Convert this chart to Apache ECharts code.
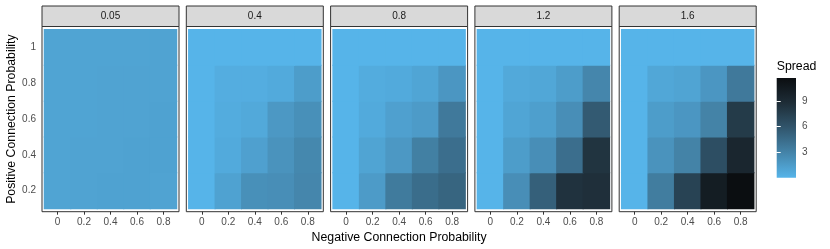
<!DOCTYPE html>
<html>
<head>
<meta charset="utf-8">
<script src="https://cdn.jsdelivr.net/npm/echarts@6/dist/echarts.min.js"></script>
<style>html,body{margin:0;padding:0;background:#fff}#c{width:830px;height:249px}</style>
</head>
<body>
<div id="c"></div>
<script>
// ---- data ----
const facets = ['0.05', '0.4', '0.8', '1.2', '1.6'];
const negProb = [0, 0.2, 0.4, 0.6, 0.8];        // x categories (columns)
const posProb = [0.2, 0.4, 0.6, 0.8, 1.0];      // y categories (rows, bottom to top)
const xTicks = [0, 0.2, 0.4, 0.6, 0.8];
const yTicks = [0.2, 0.4, 0.6, 0.8, 1];
const legendTicks = [3, 6, 9];
const spreadMin = 0, spreadMax = 11.7;
// rows follow posProb order, columns follow negProb order
const spread_005 = [
  [1.0, 1.05, 1.1, 1.1, 1.05],
  [1.0, 1.05, 1.05, 1.1, 1.1],
  [1.0, 1.0, 1.05, 1.05, 1.1],
  [1.0, 1.0, 1.05, 1.05, 1.05],
  [1.0, 1.0, 1.0, 1.0, 1.05]
];
const spread_04 = [
  [0, 1.1, 2.2, 2.3, 2.8],
  [0, 0.6, 1.2, 2.0, 2.7],
  [0, 0.5, 0.7, 1.7, 2.2],
  [0, 0.4, 0.4, 0.6, 1.4],
  [0, 0, 0, 0, 0]
];
const spread_08 = [
  [0, 1.5, 3.5, 4.4, 4.9],
  [0, 1.0, 1.7, 3.2, 4.3],
  [0, 0.6, 1.2, 1.5, 3.6],
  [0, 0.5, 0.6, 0.9, 1.8],
  [0, 0, 0, 0, 0]
];
const spread_12 = [
  [0, 2.3, 5.2, 8.4, 8.6],
  [0, 1.4, 2.3, 4.3, 8.3],
  [0, 0.9, 1.3, 2.3, 5.6],
  [0, 0.7, 0.8, 1.4, 2.8],
  [0, 0, 0, 0, 0]
];
const spread_16 = [
  [0, 3.4, 7.2, 10.3, 11.7],
  [0, 2.0, 3.0, 6.4, 9.4],
  [0, 1.4, 1.8, 3.0, 7.8],
  [0, 0.8, 1.0, 1.8, 3.6],
  [0, 0, 0, 0, 0]
];
const panels = [spread_005, spread_04, spread_08, spread_12, spread_16];

// ---- style / layout ----
const colorStops = ['#56B4E9', '#4484A9', '#31566D', '#1E2D37', '#0B0E11'];
const FONT = 'Liberation Sans';
const TICK_FS = 10, TITLE_FS = 12.3;
const panelLefts = [42, 186.3, 330.6, 474.9, 619.2];
const panelW = 137, panelTop = 26.5, panelH = 185.2;
const stripTop = 6;
const halfW = (negProb[1] - negProb[0]) / 2;
const halfH = (posProb[1] - posProb[0]) / 2;

const chart = echarts.init(document.getElementById('c'), null, {renderer: 'canvas'});

const grids = [], xAxes = [], yAxes = [], series = [], graphics = [];
panels.forEach((mat, i) => {
  grids.push({left: panelLefts[i], top: panelTop, width: panelW, height: panelH,
    show: true, borderColor: '#333333', borderWidth: 1, backgroundColor: '#fff'});
  xAxes.push({type: 'value', gridIndex: i, min: -0.117, max: 0.917,
    axisLine: {show: false}, splitLine: {show: false},
    axisTick: {show: true, length: 3, lineStyle: {color: '#333333'}, customValues: xTicks},
    axisLabel: {show: true, margin: 6, color: '#4D4D4D', fontFamily: FONT, fontSize: TICK_FS,
      customValues: xTicks, formatter: v => String(v)}});
  yAxes.push({type: 'value', gridIndex: i, min: 0.083, max: 1.117,
    axisLine: {show: false}, splitLine: {show: false},
    axisTick: {show: i === 0, length: 3, lineStyle: {color: '#333333'}, customValues: yTicks},
    axisLabel: {show: i === 0, margin: 6, color: '#4D4D4D', fontFamily: FONT, fontSize: TICK_FS,
      customValues: yTicks, formatter: v => String(v)}});
  const data = [];
  mat.forEach((row, r) => row.forEach((v, c) => data.push([negProb[c], posProb[r], v])));
  series.push({type: 'custom', xAxisIndex: i, yAxisIndex: i, data: data,
    encode: {x: 0, y: 1},
    renderItem: function (params, api) {
      const x = api.value(0), y = api.value(1);
      const p1 = api.coord([x - halfW, y + halfH]);
      const p2 = api.coord([x + halfW, y - halfH]);
      const col = api.visual('color');
      // slight overlap hides anti-aliasing seams between neighbouring tiles
      const ov = 0.5;
      return {type: 'rect',
        shape: {x: p1[0] - ov, y: p1[1] - ov, width: p2[0] - p1[0] + 2 * ov, height: p2[1] - p1[1] + 2 * ov},
        style: {fill: col}};
    }});
  graphics.push({type: 'rect', shape: {x: panelLefts[i], y: stripTop, width: panelW, height: panelTop - stripTop},
    style: {fill: '#D9D9D9', stroke: '#333333', lineWidth: 1}, z: 10});
  graphics.push({type: 'text', x: panelLefts[i] + panelW / 2, y: (stripTop + panelTop) / 2 + 0.3,
    style: {text: facets[i], fill: '#1A1A1A', font: TICK_FS + 'px ' + FONT, textAlign: 'center', textVerticalAlign: 'middle'}, z: 11});
});

// colour bar legend as its own grid
const lg = {left: 776.7, top: 78, width: 19.3, height: 99.7};
grids.push({left: lg.left, top: lg.top, width: lg.width, height: lg.height, show: false});
xAxes.push({type: 'value', gridIndex: 5, min: 0, max: 1, show: false});
yAxes.push({type: 'value', gridIndex: 5, min: spreadMin, max: spreadMax, position: 'right', z: 10,
  axisLine: {show: false}, splitLine: {show: false},
  axisTick: {show: true, inside: true, length: 4, lineStyle: {color: '#ffffff', width: 1}, customValues: legendTicks},
  axisLabel: {show: true, margin: 6, color: '#4D4D4D', fontFamily: FONT, fontSize: TICK_FS, customValues: legendTicks}});
yAxes.push({type: 'value', gridIndex: 5, min: spreadMin, max: spreadMax, position: 'left', z: 10,
  axisLine: {show: false}, splitLine: {show: false},
  axisTick: {show: true, inside: true, length: 4, lineStyle: {color: '#ffffff', width: 1}, customValues: legendTicks},
  axisLabel: {show: false}});
series.push({type: 'custom', xAxisIndex: 5, yAxisIndex: 5, data: [[0, spreadMin, spreadMax]], z: 1,
  renderItem: function (params, api) {
    const p1 = api.coord([0, api.value(2)]);
    const p2 = api.coord([1, api.value(1)]);
    return {type: 'rect', shape: {x: p1[0], y: p1[1], width: p2[0] - p1[0], height: p2[1] - p1[1]},
      style: {fill: {type: 'linear', x: 0, y: 1, x2: 0, y2: 0,
        colorStops: colorStops.map((c, k) => ({offset: k / (colorStops.length - 1), color: c}))}}};
  }});

graphics.push({type: 'text', x: (panelLefts[0] + panelLefts[4] + panelW) / 2, y: 237.5,
  style: {text: 'Negative Connection Probability', fill: '#000', font: TITLE_FS + 'px ' + FONT, textAlign: 'center', textVerticalAlign: 'middle'}});
graphics.push({type: 'text', x: 12, y: panelTop + panelH / 2, rotation: Math.PI / 2,
  style: {text: 'Positive Connection Probability', fill: '#000', font: TITLE_FS + 'px ' + FONT, textAlign: 'center', textVerticalAlign: 'middle'}});
graphics.push({type: 'text', x: lg.left, y: 66.5,
  style: {text: 'Spread', fill: '#000', font: TITLE_FS + 'px ' + FONT, textAlign: 'left', textVerticalAlign: 'middle'}});

chart.setOption({
  animation: false,
  backgroundColor: '#fff',
  grid: grids, xAxis: xAxes, yAxis: yAxes, series: series,
  visualMap: {type: 'continuous', show: false, min: spreadMin, max: spreadMax, dimension: 2,
    seriesIndex: [0, 1, 2, 3, 4], inRange: {color: colorStops}},
  graphic: graphics
});
</script>
</body>
</html>
